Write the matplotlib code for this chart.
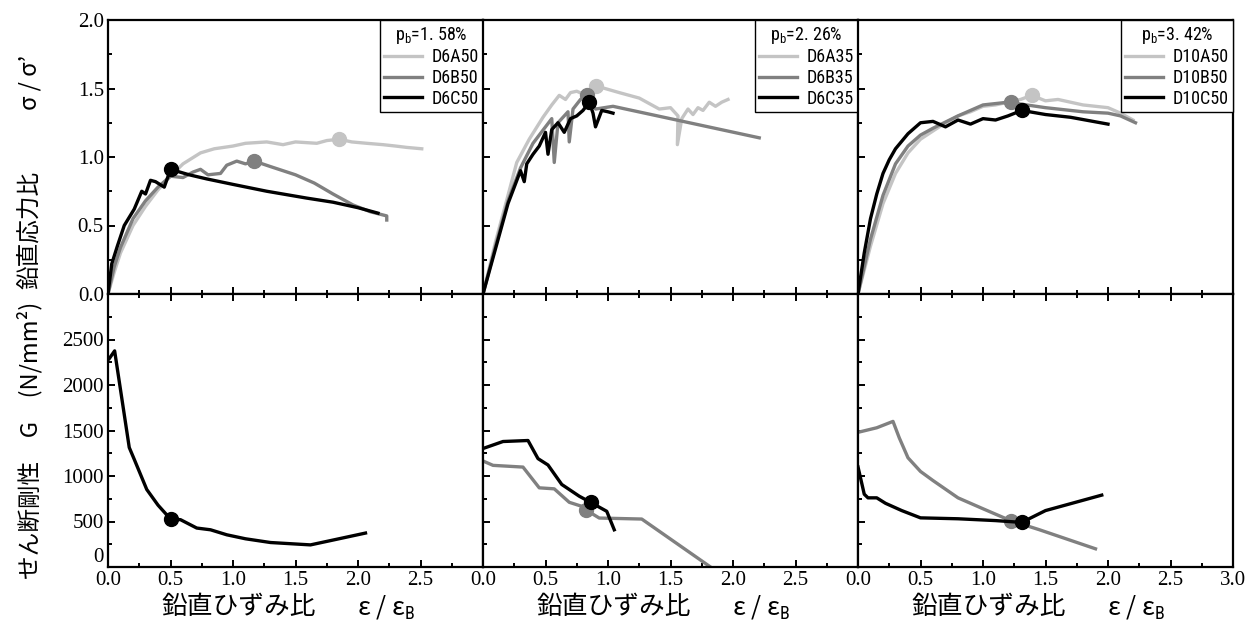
import numpy as np
import matplotlib
matplotlib.use('Agg')
import matplotlib.pyplot as plt
from matplotlib.ticker import MultipleLocator

plt.rcParams['font.family'] = ['Liberation Serif', 'DejaVu Serif']
plt.rcParams['mathtext.fontset'] = 'custom'
plt.rcParams['mathtext.rm'] = 'Roboto Condensed'
plt.rcParams['mathtext.it'] = 'Roboto Condensed'

# ---- data: vertical stress ratio (top) ----
# p_b = 1.58%
x_d6a50 = [0, 0.05, 0.1, 0.2, 0.3, 0.4, 0.5, 0.6, 0.74, 0.85, 1.0, 1.1, 1.27, 1.4, 1.5,
           1.67, 1.75, 1.85, 1.95, 2.07, 2.2, 2.3, 2.39, 2.51]
y_d6a50 = [0, 0.16, 0.3, 0.5, 0.64, 0.76, 0.86, 0.95, 1.03, 1.06, 1.08, 1.10, 1.11, 1.09, 1.11,
           1.10, 1.12, 1.13, 1.11, 1.10, 1.09, 1.08, 1.07, 1.06]
x_d6b50 = [0, 0.05, 0.1, 0.2, 0.3, 0.4, 0.5, 0.6, 0.68, 0.74, 0.8, 0.9, 0.95, 1.03, 1.1, 1.17,
           1.3, 1.5, 1.65, 1.8, 1.96, 2.1, 2.23, 2.23]
y_d6b50 = [0, 0.2, 0.34, 0.55, 0.68, 0.78, 0.86, 0.85, 0.89, 0.91, 0.87, 0.88, 0.94, 0.97, 0.95, 0.97,
           0.93, 0.87, 0.81, 0.73, 0.65, 0.6, 0.57, 0.54]
x_d6c50 = [0, 0.03, 0.075, 0.13, 0.21, 0.27, 0.3, 0.34, 0.38, 0.45, 0.5, 0.65, 0.79, 1.0, 1.27,
           1.59, 1.8, 2.0, 2.16]
y_d6c50 = [0, 0.22, 0.35, 0.5, 0.62, 0.75, 0.73, 0.83, 0.82, 0.78, 0.91, 0.87, 0.84, 0.80, 0.75,
           0.70, 0.67, 0.63, 0.59]
peak_1 = {'A': (1.85, 1.13), 'B': (1.17, 0.97), 'C': (0.5, 0.91)}

# p_b = 2.26%
x_d6a35 = [0, 0.1, 0.2, 0.27, 0.37, 0.48, 0.55, 0.61, 0.66, 0.7, 0.75, 0.8, 0.9, 1.09, 1.25, 1.41,
           1.5, 1.56, 1.555, 1.59, 1.64, 1.68, 1.72, 1.76, 1.81, 1.86, 1.91, 1.96]
y_d6a35 = [0, 0.38, 0.72, 0.96, 1.13, 1.29, 1.38, 1.45, 1.42, 1.47, 1.48, 1.46, 1.52, 1.47, 1.43, 1.35,
           1.36, 1.30, 1.09, 1.28, 1.35, 1.31, 1.36, 1.34, 1.40, 1.37, 1.40, 1.42]
x_d6b35 = [0, 0.1, 0.2, 0.3, 0.4, 0.5, 0.55, 0.57, 0.6, 0.65, 0.68, 0.69, 0.72, 0.78, 0.83, 0.9,
           1.04, 2.21]
y_d6b35 = [0, 0.35, 0.68, 0.92, 1.1, 1.22, 1.28, 0.96, 1.25, 1.3, 1.33, 1.11, 1.35, 1.42, 1.45, 1.35,
           1.37, 1.14]
x_d6c35 = [0, 0.1, 0.2, 0.3, 0.33, 0.35, 0.4, 0.45, 0.5, 0.52, 0.55, 0.6, 0.65, 0.7, 0.75, 0.8,
           0.85, 0.88, 0.9, 0.95, 1.0, 1.04]
y_d6c35 = [0, 0.33, 0.66, 0.9, 0.82, 0.95, 1.02, 1.08, 1.18, 1.02, 1.2, 1.25, 1.18, 1.28, 1.3, 1.34,
           1.40, 1.32, 1.22, 1.34, 1.33, 1.32]
peak_2 = {'A': (0.9, 1.52), 'B': (0.83, 1.45), 'C': (0.85, 1.40)}

# p_b = 3.42%
x_d10a50 = [0, 0.1, 0.2, 0.3, 0.4, 0.5, 0.6, 0.7, 0.8, 0.9, 1.0, 1.1, 1.2, 1.3, 1.39, 1.5, 1.6,
            1.8, 2.0, 2.1, 2.2]
y_d10a50 = [0, 0.35, 0.66, 0.88, 1.03, 1.13, 1.19, 1.25, 1.3, 1.33, 1.37, 1.38, 1.40, 1.42, 1.45, 1.41,
            1.42, 1.38, 1.36, 1.32, 1.27]
x_d10b50 = [0, 0.1, 0.2, 0.3, 0.4, 0.5, 0.6, 0.8, 1.0, 1.2, 1.5, 1.8, 2.0, 2.1, 2.22]
y_d10b50 = [0, 0.4, 0.72, 0.95, 1.08, 1.16, 1.21, 1.3, 1.38, 1.40, 1.36, 1.33, 1.32, 1.30, 1.25]
x_d10c50 = [0, 0.05, 0.1, 0.15, 0.2, 0.25, 0.3, 0.4, 0.5, 0.6, 0.7, 0.8, 0.9, 1.0, 1.1, 1.2, 1.31,
            1.5, 1.7, 2.0]
y_d10c50 = [0, 0.3, 0.55, 0.73, 0.88, 0.98, 1.06, 1.17, 1.25, 1.26, 1.22, 1.27, 1.24, 1.28, 1.27, 1.30,
            1.34, 1.31, 1.29, 1.24]
peak_3 = {'A': (1.39, 1.45), 'B': (1.22, 1.40), 'C': (1.31, 1.34)}

# ---- data: shear stiffness G (bottom) ----
gx_d6c50 = [0.01, 0.053, 0.17, 0.21, 0.31, 0.4, 0.50, 0.58, 0.71, 0.82, 0.95, 1.1, 1.30, 1.62, 1.81, 2.06]
g_d6c50 = [2290, 2375, 1313, 1183, 852, 680, 527, 520, 428, 409, 354, 310, 269, 243, 299, 373]
gpeak_1 = {'C': (0.5, 527)}

gx_d6b35 = [0, 0.08, 0.32, 0.45, 0.57, 0.69, 0.79, 0.82, 0.93, 1.27, 1.82]
g_d6b35 = [1165, 1117, 1098, 870, 859, 711, 667, 630, 538, 527, 0]
gx_d6c35 = [0, 0.16, 0.36, 0.44, 0.52, 0.63, 0.77, 0.86, 0.99, 1.05]
g_d6c35 = [1302, 1379, 1390, 1191, 1121, 907, 778, 711, 612, 409]
gpeak_2 = {'B': (0.82, 630), 'C': (0.86, 711)}

gx_d10b50 = [0, 0.15, 0.28, 0.33, 0.4, 0.5, 0.6, 0.8, 1.0, 1.22, 1.45, 1.9]
g_d10b50 = [1480, 1530, 1600, 1420, 1200, 1050, 950, 760, 640, 510, 410, 200]
gx_d10c50 = [0, 0.05, 0.08, 0.15, 0.22, 0.35, 0.5, 0.8, 1.1, 1.31, 1.5, 1.95]
g_d10c50 = [1100, 800, 760, 760, 700, 620, 540, 530, 510, 490, 620, 790]
gpeak_3 = {'B': (1.22, 510), 'C': (1.31, 490)}

pb_titles = ['1. 58%', '2. 26%', '3. 42%']
names = [['D6A50', 'D6B50', 'D6C50'], ['D6A35', 'D6B35', 'D6C35'], ['D10A50', 'D10B50', 'D10C50']]
colors = {'A': '#c4c4c4', 'B': '#808080', 'C': '#000000'}

top_data = [
    {'A': (x_d6a50, y_d6a50), 'B': (x_d6b50, y_d6b50), 'C': (x_d6c50, y_d6c50)},
    {'A': (x_d6a35, y_d6a35), 'B': (x_d6b35, y_d6b35), 'C': (x_d6c35, y_d6c35)},
    {'A': (x_d10a50, y_d10a50), 'B': (x_d10b50, y_d10b50), 'C': (x_d10c50, y_d10c50)},
]
top_peaks = [peak_1, peak_2, peak_3]
bot_data = [
    {'C': (gx_d6c50, g_d6c50)},
    {'B': (gx_d6b35, g_d6b35), 'C': (gx_d6c35, g_d6c35)},
    {'B': (gx_d10b50, g_d10b50), 'C': (gx_d10c50, g_d10c50)},
]
bot_peaks = [gpeak_1, gpeak_2, gpeak_3]

W, H = 1257, 628
fig = plt.figure(figsize=(W / 100, H / 100), dpi=100)

left0 = 108
pw = 375
y_top, y_mid, y_bot = 20, 294, 567
cjk = ['Noto Sans CJK JP', 'DejaVu Sans']
narrow = ['Roboto Condensed', 'Liberation Sans Narrow', 'Liberation Sans', 'DejaVu Sans']


def style_axis(ax):
    for s in ax.spines.values():
        s.set_linewidth(1.6)
    ax.tick_params(which='both', direction='in', top=False, right=False, width=1.4)
    ax.tick_params(which='major', length=5, labelsize=15, pad=3)
    ax.tick_params(which='minor', length=3)
    ax.xaxis.set_minor_locator(MultipleLocator(0.25))


for i in range(3):
    l = (left0 + i * pw) / W
    ax_t = fig.add_axes([l, 1 - y_mid / H, pw / W, (y_mid - y_top) / H])
    ax_b = fig.add_axes([l, 1 - y_bot / H, pw / W, (y_bot - y_mid) / H])

    for k in ['A', 'B', 'C']:
        xs, ys = top_data[i][k]
        ax_t.plot(xs, ys, color=colors[k], lw=2.4, label=names[i]['ABC'.index(k)])
        px, py = top_peaks[i][k]
        ax_t.plot([px], [py], 'o', color=colors[k], ms=10)
    for k in ['B', 'C']:
        if k in bot_data[i]:
            xs, ys = bot_data[i][k]
            ax_b.plot(xs, ys, color=colors[k], lw=2.4)
            px, py = bot_peaks[i][k]
            ax_b.plot([px], [py], 'o', color=colors[k], ms=10)

    ax_t.set_xlim(0, 3.0)
    ax_t.set_ylim(0, 2.0)
    ax_b.set_xlim(0, 3.0)
    ax_b.set_ylim(0, 3000)

    style_axis(ax_t)
    style_axis(ax_b)
    ax_t.yaxis.set_minor_locator(MultipleLocator(0.25))
    ax_b.yaxis.set_minor_locator(MultipleLocator(250))
    ax_b.tick_params(which='both', top=True)

    ax_t.set_xticks(np.arange(0, 3.01, 0.5))
    ax_t.set_xticklabels([])
    ax_t.set_yticks(np.arange(0, 2.01, 0.5))
    ax_b.set_xticks(np.arange(0, 3.01, 0.5))
    xl = ['%.1f' % v for v in np.arange(0, 3.01, 0.5)]
    if i < 2:
        xl[-1] = ''
    ax_b.set_xticklabels(xl)
    ax_b.set_yticks(np.arange(0, 3001, 500))
    if i == 0:
        ax_t.set_yticklabels(['%.1f' % v for v in np.arange(0, 2.01, 0.5)])
        ax_b.set_yticklabels([str(v) for v in range(0, 2501, 500)] + [''])
        # lift the bottom "0" a little so it clears the x label "0.0"
        ax_b.get_yticklabels()[0].set_va('bottom')
    else:
        ax_t.set_yticklabels([])
        ax_b.set_yticklabels([])

    leg = ax_t.legend(title='p$_\\mathrm{b}$=' + pb_titles[i], loc='upper right',
                      fancybox=False, edgecolor='black', framealpha=1, borderaxespad=0,
                      handlelength=2.1, labelspacing=0.15, borderpad=0.25, handletextpad=0.5,
                      prop={'family': narrow, 'size': 13},
                      title_fontproperties={'family': narrow, 'size': 13})
    leg.get_frame().set_linewidth(1.0)

    cx = left0 + i * pw + pw / 2
    fig.text((cx - 57) / W, 1 - 607 / H, '鉛直ひずみ比', family=cjk, fontsize=18.5,
             ha='center', va='center')
    fig.text((cx + 91) / W, 1 - 607 / H, 'ε / ε$_\\mathrm{B}$', family=cjk, fontsize=18.5,
             ha='center', va='center')

fig.text(30 / W, 1 - 230 / H, '鉛直応力比', family=cjk, fontsize=17,
         rotation=90, ha='center', va='center')
fig.text(30 / W, 1 - 82 / H, 'σ / σ’', family=cjk, fontsize=17,
         rotation=90, ha='center', va='center')
fig.text(30 / W, 1 - 440 / H, 'せん断剛性　G　(N/mm²)', family=cjk, fontsize=17,
         rotation=90, ha='center', va='center')

fig.savefig('out.png', dpi=100)
